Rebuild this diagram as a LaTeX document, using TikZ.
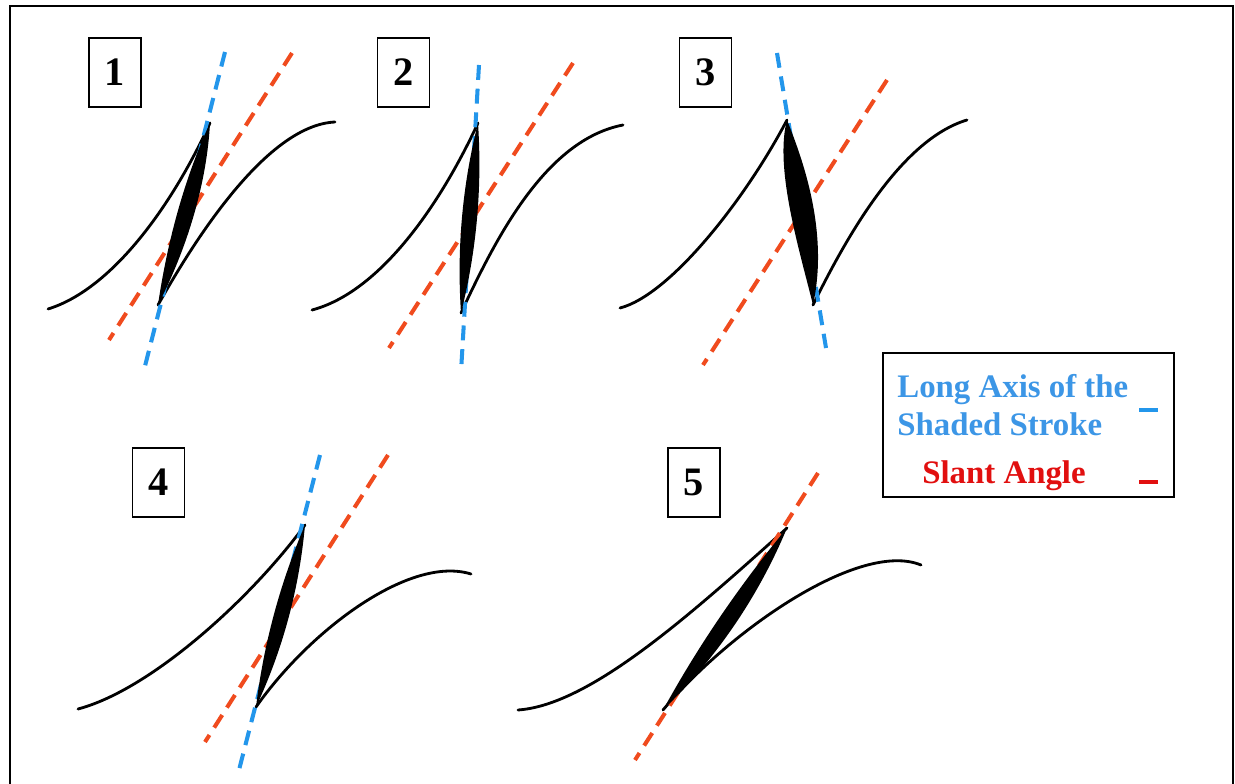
\documentclass[tikz,border=0pt]{standalone}
\usepackage{fontspec}
\setmainfont{Liberation Serif}
\usetikzlibrary{positioning}
\definecolor{axisblue}{RGB}{35,150,235}
\definecolor{slantred}{RGB}{240,75,30}
\definecolor{legendblue}{RGB}{60,150,230}
\definecolor{legendred}{RGB}{225,15,15}

\begin{document}
\begin{tikzpicture}[x=0.02cm, y=-0.02cm,
  num/.style={rectangle, draw, line width=0.6pt, minimum width=1.04cm,
              minimum height=1.38cm, inner sep=0pt,
              font=\fontsize{23}{23}\selectfont\bfseries},
  pen/.style={line width=1.6pt, line cap=round},
  ink/.style={fill=black},
  axisline/.style={axisblue, line width=2.3pt, dash pattern=on 8.5pt off 5pt},
  slantline/.style={slantred, line width=2.3pt, dash pattern=on 8.5pt off 5pt},
  legtext/.style={font=\fontsize{18.7}{22}\selectfont\bfseries,
                  align=left, inner sep=0pt},
]
\useasboundingbox (0,0) rectangle (1235,784);

% Frame (open at the bottom)
\draw[line width=1.5pt] (10,784) -- (10,6) -- (1233,6) -- (1233,784);

% Number boxes
\node[num] (n1) at (115,72.5) {1};
\node[num] (n2) at (403.5,72.5) {2};
\node[num] (n3) at (705.5,72.5) {3};
\node[num] (n4) at (158.5,482.5) {4};
\node[num] (n5) at (694,482.5) {5};

% Stroke end points
\coordinate (a1) at (48,309);   \coordinate (s1t) at (210,123);
\coordinate (s1b) at (158,305); \coordinate (e1) at (335,122);
\coordinate (a2) at (312,310);  \coordinate (s2t) at (478,123);
\coordinate (s2b) at (461,313); \coordinate (e2) at (623,125);
\coordinate (a3) at (620,308);  \coordinate (s3t) at (787,120);
\coordinate (s3b) at (813,305); \coordinate (e3) at (967,120);
\coordinate (a4) at (78,709);   \coordinate (s4t) at (305,525);
\coordinate (s4b) at (256,707); \coordinate (e4) at (471,574);
\coordinate (a5) at (518,710);  \coordinate (s5t) at (787,528);
\coordinate (s5b) at (663,710); \coordinate (e5) at (921,565);

% Thin curves
\draw[pen] (a1) .. controls (110,290) and (170,210) .. (s1t);
\draw[pen] (s1b) .. controls (200,230) and (270,125) .. (e1);
\draw[pen] (a2) .. controls (380,292) and (440,205) .. (s2t);
\draw[pen] (s2b) .. controls (495,240) and (545,140) .. (e2);
\draw[pen] (a3) .. controls (670,295) and (745,200) .. (s3t);
\draw[pen] (s3b) .. controls (845,240) and (900,140) .. (e3);
\draw[pen] (a4) .. controls (150,690) and (250,600) .. (s4t);
\draw[pen] (s4b) .. controls (310,630) and (410,555) .. (e4);
\draw[pen] (a5) .. controls (590,705) and (690,615) .. (s5t);
\draw[pen] (s5b) .. controls (730,630) and (860,540) .. (e5);

% Long axis and slant lines
\coordinate (b1t) at (225,52);  \coordinate (b1b) at (144,370);
\coordinate (r1t) at (292,53);  \coordinate (r1b) at (109,340);
\coordinate (b2t) at (479,65);  \coordinate (b2b) at (461,372);
\coordinate (r2t) at (573,63);  \coordinate (r2b) at (389,348);
\coordinate (b3t) at (777,53);  \coordinate (b3b) at (826,348);
\coordinate (r3t) at (887,80);  \coordinate (r3b) at (703,365);
\coordinate (b4t) at (320,455); \coordinate (b4b) at (239,770);
\coordinate (r4t) at (388,455); \coordinate (r4b) at (205,742);
\coordinate (r5t) at (818,473); \coordinate (r5b) at (635,760);
\draw[slantline] (r1t) -- (r1b);
\draw[axisline] (b1t) -- (b1b);
\draw[slantline] (r2t) -- (r2b);
\draw[axisline] (b2t) -- (b2b);
\draw[slantline] (r3t) -- (r3b);
\draw[axisline] (b3t) -- (b3b);
\draw[slantline] (r4t) -- (r4b);
\draw[axisline] (b4t) -- (b4b);
\draw[slantline] (r5t) -- (r5b);

% Shaded strokes
\fill[ink] (s1t) .. controls (206.9,181.2) and (188.7,244.9) .. (s1b)
  .. controls (167.6,238.8) and (185.8,175.1) .. (s1t) -- cycle;
\fill[ink] (s2t) .. controls (482.3,187.2) and (476.7,250.6) .. (s2b)
  .. controls (456.7,248.8) and (462.3,185.4) .. (s2t) -- cycle;
\fill[ink] (s3t) .. controls (803,160) and (829,232) .. (s3b)
  .. controls (800,252) and (774,168) .. (s3t) -- cycle;
\fill[ink] (s4t) .. controls (299.3,588.6) and (282.9,649.2) .. (s4b)
  .. controls (263.6,644) and (280,583.4) .. (s4t) -- cycle;
\fill[ink] (s5t) .. controls (758.1,597.1) and (716.7,657.7) .. (s5b)
  .. controls (698.5,645.4) and (739.9,584.8) .. (s5t) -- cycle;

% Legend
\node[draw, line width=0.8pt, minimum width=5.82cm, minimum height=2.88cm]
  (legend) at (1028.5,425) {};
\node[legtext, text=legendblue, anchor=west] (axislbl) at (897,405)
  {Long Axis of the\\Shaded Stroke};
\node[legtext, text=legendred] (slantlbl) at (1004,476) {Slant Angle};
\coordinate (ka) at (1139,410); \coordinate (kb) at (1158,410);
\coordinate (kc) at (1139,482); \coordinate (kd) at (1158,482);
\draw[axisblue, line width=2.3pt] (ka) -- (kb);
\draw[legendred, line width=2.3pt] (kc) -- (kd);
\end{tikzpicture}
\end{document}
